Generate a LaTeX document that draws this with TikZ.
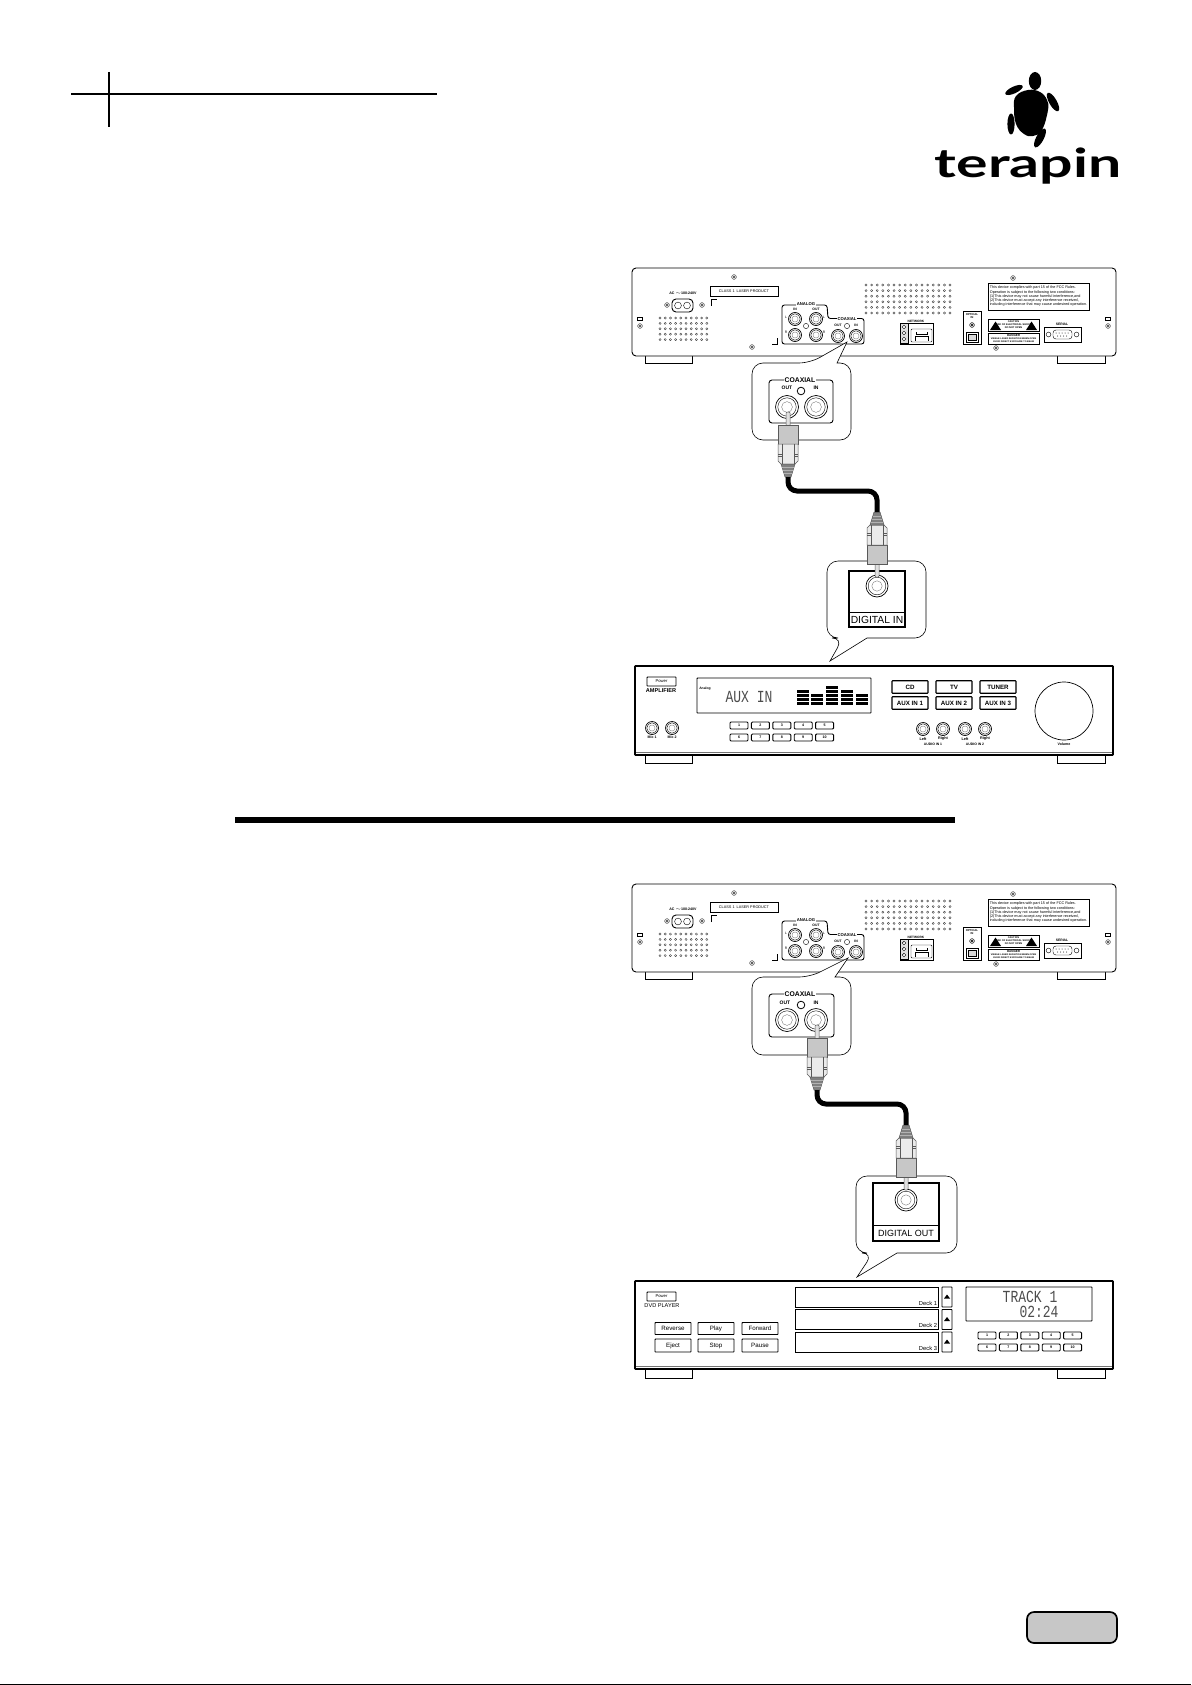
\documentclass[tikz,border=0pt]{standalone}
\usepackage{fontspec}
\setmainfont{Liberation Sans}
\newfontfamily\lcdfont{Liberation Mono}
\newfontfamily\logofont{Lato}
\newcommand{\fsz}[1]{\fontsize{#1}{#1}\selectfont}
\newcommand{\lcdtext}[1]{\scalebox{1}[1.3]{\lcdfont\fsz{13}#1}}

\tikzset{
    x=1pt,y=-1pt,
    every node/.append style={inner sep=0pt,outer sep=0pt},
    thinline/.style={draw,line width=0.4pt},
    midline/.style={draw,line width=0.9pt},
    bodyline/.style={draw,line width=1.7pt},
    tinytext/.style={font=\fsz{3.4}},
    smalltext/.style={font=\fsz{4.4}},
    paneltext/.style={font=\bfseries\fsz{4.2},fill=white,inner xsep=1pt},
    hole/.style={draw,line width=0.35pt,draw=black!80,fill=white},
    plugline/.style={draw=black!65,line width=0.5pt},
    padbtn/.style={midline,rounded corners=1pt,minimum width=18pt,minimum height=7pt,font=\bfseries\fsz{3.6}},
    srcbtn/.style={midline,line width=1.1pt,rounded corners=0.6pt,minimum width=36pt,minimum height=12.5pt,font=\bfseries\fsz{6.2}},
    ctlbtn/.style={midline,rounded corners=0.6pt,minimum width=36pt,minimum height=12pt,font=\fsz{6.2}},
    pwrbtn/.style={midline,rounded corners=0.6pt,minimum width=29pt,minimum height=9pt,font=\fsz{4.2}},
    bubble/.style={draw,line width=0.6pt,fill=white},
    cablewire/.style={draw,line width=5pt,rounded corners=9pt},
    foot/.style={draw,line width=0.9pt,fill=white},
    % rear view of the unit, coordinates of the upper one
    rearpanel/.pic={
        \draw[foot] (645,352) rectangle (692,363);
        \draw[foot] (1057,352) rectangle (1105,363);
        \draw[midline,fill=white,rounded corners=4pt] (632,268) rectangle (1116,356);
        \node[tinytext,font=\bfseries\fsz{3.6}] (-ac) at (683,293) {AC $\sim$100-240V};
        \draw[midline,rounded corners=4pt] (672,299) rectangle (693,312);
        \draw[thinline] (678,305.5) circle (3.4) (687,305.5) circle (3.4);
        \foreach \px/\py in {667/305,702/305,734/277,1013/278,752/347,996/348,640/326,1108/326}
            \draw[thinline,draw=black!75] (\px,\py) circle (2.4) (\px,\py) circle (1);
        \draw[thinline] (637.5,317.5) rectangle (642.5,320.5) (1105.5,317.5) rectangle (1110.5,320.5);
        \node[thinline,minimum width=68pt,minimum height=10pt,font=\fsz{3.8}] (-laser) at (744,291) {CLASS 1\ \ LASER PRODUCT};
        \draw[thinline] (711,306) -- (711,299.5) -- (717,299.5);
        \draw[thinline] (777.5,338) -- (777.5,344) -- (772,344);
        \foreach \ix in {0,...,9} \foreach \iy in {0,...,4}
            \draw[hole] (660+\ix*5.2,318+\iy*5.4) circle (1.1);
        \foreach \ix in {0,...,15} \foreach \iy in {0,...,5}
            \draw[hole] (866+\ix*5.6,285+\iy*5.6) circle (1.1);
        % analog and coaxial sockets
        \draw[midline,rounded corners=2.5pt] (782,344) -- (782,305) -- (827,305) -- (828,318.5) -- (864,318.5) -- (864,344) -- cycle;
        \node[paneltext] (-analog) at (806,304.5) {ANALOG};
        \node[paneltext] (-coax) at (847,319) {COAXIAL};
        \node[tinytext,font=\bfseries\fsz{3.4}] (-ain) at (795,309.5) {IN};
        \node[tinytext,font=\bfseries\fsz{3.4}] (-aout) at (816,309.5) {OUT};
        \node[tinytext,font=\bfseries\fsz{3.4}] (-cout) at (838,325) {OUT};
        \node[tinytext,font=\bfseries\fsz{3.4}] (-cin) at (856,325) {IN};
        \node[tinytext] (-ll) at (786,317) {L};
        \node[tinytext] (-rl) at (824,317) {L};
        \node[tinytext] (-lr) at (786,332) {R};
        \node[tinytext] (-rr) at (824,332) {R};
        \draw[thinline] (806,326) circle (2.6) (847,326) circle (2.6);
        \foreach \jx/\jy in {795/319,816/319,795/335,816/335,838/336,856/336}
            \pic[scale=6.5] at (\jx,\jy) {jack};
        % network
        \draw[midline] (900,323) rectangle (933,344);
        \node[paneltext,font=\bfseries\fsz{3.2}] (-net) at (916,321) {NETWORK};
        \draw[thinline,fill=black!12] (900.5,323.5) rectangle (908,343.5);
        \foreach \ny in {327,333,339} \draw[thinline,fill=white] (904,\ny) circle (1.8);
        \draw[thinline,fill=white,rounded corners=1pt] (911,329) rectangle (932,342);
        \draw[midline] (916,332) -- (916,334) -- (927,334) -- (927,332);
        \draw[thinline] (915,341) -- (915,336) -- (928,336) -- (928,341);
        % optical
        \draw[midline] (963,311) rectangle (981,344);
        \node[tinytext,font=\bfseries\fsz{2.8}] (-opt) at (972,315) {OPTICAL};
        \node[tinytext,font=\bfseries\fsz{2.8}] (-optin) at (972,318) {IN};
        \draw[thinline] (972,325) circle (2.4) (972,325) circle (1);
        \draw[midline] (966,332) rectangle (978,342);
        \draw[thinline,fill=black!15] (968,334) rectangle (976,340);
        % notice and warnings
        \node[midline,minimum width=101pt,minimum height=27pt,font=\fsz{3.75},align=left] (-notice) at (1038.5,296.5)
            {This device complies with part 15 of the FCC Rules.\\[0.5pt]Operation is subject to the following two conditions:\\[0.5pt](1)This device may not cause harmful interference,and\\[0.5pt](2)This device must accept any interference received,\\[0.5pt]including interference that may cause undesired operation.};
        \node[midline,minimum width=51pt,minimum height=12pt,font=\bfseries\fsz{2.5},align=center] (-caution) at (1013.5,325)
            {CAUTION\\[0.5pt]RISK OF ELECTRICAL SHOCK\\[0.5pt]DO NOT OPEN};
        \fill (990,330) -- (995.5,321.5) -- (1001,330) -- cycle;
        \fill (1026,330) -- (1031.5,321.5) -- (1037,330) -- cycle;
        \node[midline,minimum width=51pt,minimum height=11pt,font=\bfseries\fsz{2.3},align=center] (-danger) at (1013.5,338.5)
            {\fsz{3}DANGER\\[0.5pt]VISIBLE LASER RADIATION WHEN OPEN\\[0.5pt]AVOID DIRECT EXPOSURE TO BEAM};
        % serial
        \node[tinytext,font=\bfseries\fsz{3.4}] (-serial) at (1062,324) {SERIAL};
        \draw[midline] (1044,327) rectangle (1081,342);
        \draw[thinline,rounded corners=3pt,fill=white] (1053,330) rectangle (1072,339);
        \foreach \sx in {1056,1059,1062,1065,1068} \fill (\sx,333) circle (0.5);
        \foreach \sx in {1057.5,1060.5,1063.5,1066.5} \fill (\sx,336) circle (0.5);
        \draw[thinline] (1048.5,334.5) circle (2.4) (1076.5,334.5) circle (2.4);
    },
    jack/.pic={
        \draw[line width=0.7pt,fill=white] (0,0) circle (1);
        \draw[line width=0.4pt] (0,0) circle (0.8);
        \draw[line width=0.35pt,draw=black!55] (0,0) circle (0.47);
    },
    % rca plug, origin at the tip of the pin, pin pointing up
    rcaplug/.pic={
        \draw[plugline,fill=black!12,rounded corners=1pt] (-2,0) rectangle (2,14);
        \draw[plugline,fill=black!22] (-10,13) rectangle (10,32);
        \draw[plugline,fill=black!8] (-10,32) -- (-10,49) -- (-7,52) -- (7,52) -- (10,49) -- (10,32) -- cycle;
        \draw[plugline] (-6,32) -- (-6,52) (6,32) -- (6,52);
        \draw[plugline] (-10,42) -- (-6,42) (-10,44) -- (-6,44) (6,42) -- (10,42) (6,44) -- (10,44);
        \draw[plugline,fill=black!50] (-7,52) -- (-3,65) -- (3,65) -- (7,52) -- cycle;
        \draw[line width=0.4pt,draw=black!30] (-6,55) -- (6,55) (-5,58) -- (5,58) (-4,61) -- (4,61);
        \coordinate (-tail) at (0,65);
    },
    numberpad/.pic={
        \foreach \n [count=\i from 0] in {1,...,5}
            \node[padbtn] (-top\n) at (9+\i*21.4,3.5) {\n};
        \foreach \n [count=\i from 0] in {6,...,10}
            \node[padbtn] (-low\n) at (9+\i*21.4,\padgap) {\n};
    }
}
\newcommand{\padgap}{15.5}

\begin{document}
\begin{tikzpicture}
    \useasboundingbox (0,0) rectangle (1191,1685);

    % header
    \draw[line width=2.4pt] (71,94) -- (437,94);
    \draw[line width=2.4pt] (109,72) -- (109,127);

    % logo
    \fill (1035,81) ellipse (6.2 and 9);
    \fill plot[smooth cycle,tension=0.7] coordinates {(1028,90) (1040,92) (1047,100) (1048,110) (1042,130) (1033,136) (1024,134) (1016,124) (1014,108) (1016,96)};
    \fill[rotate around={25:(1014,90)}] (1014,90) ellipse (9.5 and 3.4);
    \fill[rotate around={-60:(1053,102)}] (1053,102) ellipse (10.5 and 3.8);
    \fill (1011,124) ellipse (3.6 and 10.5);
    \fill[rotate around={62:(1040,138)}] (1040,138) ellipse (10.5 and 3.8);
    \node[font=\logofont\bfseries\fsz{40},anchor=base,xscale=1.475] (logotext) at (1028,178) {terapin};

    % upper set-up: digital in
    \pic (rearone) at (0,0) {rearpanel};
    \draw[bubble] (810,363) [sharp corners] -- (847,342) -- (837,363) [rounded corners=11pt] -- (851,363) -- (851,440) -- (752,440) -- (752,363) -- cycle;
    \draw[midline,rounded corners=3pt] (769,380) rectangle (833,423);
    \node[paneltext,font=\bfseries\fsz{6.8}] (coaxone) at (800,380) {COAXIAL};
    \node[font=\bfseries\fsz{5}] (outone) at (787,388) {OUT};
    \node[font=\bfseries\fsz{5}] (inone) at (816,388) {IN};
    \draw[line width=0.8pt] (801,391) circle (3.8);
    \pic[scale=11.5] at (787,407) {jack};
    \pic[scale=11.5] at (816,407) {jack};

    % amplifier front
    \draw[foot] (645,750) rectangle (692,763);
    \draw[foot] (1057,750) rectangle (1105,763);
    \draw[bubble] (843,638) [sharp corners] -- (830,661) -- (867,638) [rounded corners=11pt] -- (926,638) -- (926,561) -- (827,561) -- (827,638) -- cycle;
    \draw[line width=1.2pt] (849,571) rectangle (905,627);
    \draw[line width=0.8pt] (849,612) -- (905,612);
    \node[font=\fsz{10.3}] (digitalin) at (877,620) {DIGITAL IN};
    \pic[scale=11] at (877,586) {jack};
    \pic (plugone) at (788,412) {rcaplug};
    \pic (plugtwo) [yscale=-1] at (877,577) {rcaplug};
    \coordinate (bendone) at (0,491);
    \draw[cablewire] (plugone-tail) -- (plugone-tail |- bendone) -- (plugtwo-tail |- bendone) -- (plugtwo-tail);

    \draw[bodyline,fill=white,rounded corners=0.6pt] (635,666) rectangle (1113,755);
    \draw[draw=black!55,line width=1pt] (636,752.5) -- (1112,752.5);
    \node[pwrbtn] (amppower) at (661.5,681.5) {Power};
    \node[font=\bfseries\fsz{5.6}] (ampname) at (661,691) {AMPLIFIER};
    \foreach \mx/\mt in {652/Mic 1,672/Mic 2}{
        \pic[scale=6.5] at (\mx,728) {jack};
        \node[font=\bfseries\fsz{3.6}] (lab\mx) at (\mx,737) {\mt};
    }
    \draw[midline,rounded corners=0.6pt] (697,678) rectangle (871,713);
    \node[font=\bfseries\fsz{3.4}] (analogmode) at (705,689) {Analog};
    \node[text=black!70] (auxlcd) at (749,697) {\lcdtext{AUX IN}};
    \foreach \bx/\bn in {803/4,817/3,832/5,847/4,862/3}
        \foreach \bi in {1,...,\bn}
            \fill (\bx-6,707.5-\bi*4+1.4) rectangle (\bx+6,707.5-\bi*4-1.1);
    \pic at (730,722) {numberpad};
    \node[srcbtn] (cdbtn) at (910,687) {CD};
    \node[srcbtn] (tvbtn) at (954,687) {TV};
    \node[srcbtn] (tunerbtn) at (998,687) {TUNER};
    \node[srcbtn] (auxa) at (910,703) {AUX IN 1};
    \node[srcbtn] (auxb) at (954,703) {AUX IN 2};
    \node[srcbtn] (auxc) at (998,703) {AUX IN 3};
    \foreach \ax/\at in {923/Left,943/Right,965/Left,985/Right}{
        \pic[scale=6.5] at (\ax,729) {jack};
        \node[font=\bfseries\fsz{3.8}] (aud\ax) at (\ax,739) {\at};
    }
    \node[font=\bfseries\fsz{3.4}] (audioa) at (933,744) {AUDIO IN 1};
    \node[font=\bfseries\fsz{3.4}] (audiob) at (975,744) {AUDIO IN 2};
    \draw[line width=0.7pt] (1064,711) circle (29);
    \node[font=\bfseries\fsz{3.6}] (volume) at (1064,744) {Volume};

    % section rule
    \draw[line width=5.4pt] (235,820) -- (955,820);

    % lower set-up: digital out
    \pic (reartwo) at (0,616) {rearpanel};
    \draw[bubble] (810,977) [sharp corners] -- (848,958) -- (835,977) [rounded corners=11pt] -- (851,977) -- (851,1055) -- (752,1055) -- (752,977) -- cycle;
    \draw[midline,rounded corners=3pt] (769,994) rectangle (834,1037);
    \node[paneltext,font=\bfseries\fsz{6.8}] (coaxtwo) at (800,994) {COAXIAL};
    \node[font=\bfseries\fsz{5}] (outtwo) at (785,1003) {OUT};
    \node[font=\bfseries\fsz{5}] (intwo) at (816,1003) {IN};
    \draw[line width=0.8pt] (801,1005) circle (3.8);
    \pic[scale=11.5] at (787,1020) {jack};
    \pic[scale=11.5] at (816,1020) {jack};

    \draw[foot] (645,1364) rectangle (692,1378);
    \draw[foot] (1057,1364) rectangle (1105,1378);
    \draw[bubble] (873,1253) [sharp corners] -- (857,1277) -- (897,1253) [rounded corners=11pt] -- (957,1253) -- (957,1176) -- (856,1176) -- (856,1253) -- cycle;
    \draw[line width=1.2pt] (873,1183) rectangle (939,1241);
    \draw[line width=0.8pt] (873,1225) -- (939,1225);
    \node[font=\fsz{9}] (digitalout) at (906,1233) {DIGITAL OUT};
    \pic[scale=11] at (906,1200) {jack};
    \pic (plugthree) at (817,1025) {rcaplug};
    \pic (plugfour) [yscale=-1] at (906,1190) {rcaplug};
    \coordinate (bendtwo) at (0,1104);
    \draw[cablewire] (plugthree-tail) -- (plugthree-tail |- bendtwo) -- (plugfour-tail |- bendtwo) -- (plugfour-tail);

    % dvd player front
    \draw[bodyline,fill=white,rounded corners=0.6pt] (635,1281) rectangle (1113,1369);
    \draw[draw=black!55,line width=1pt] (636,1366.5) -- (1112,1366.5);
    \node[pwrbtn] (dvdpower) at (661.5,1296.5) {Power};
    \node[font=\fsz{5.6}] (dvdname) at (662,1306) {DVD PLAYER};
    \node[ctlbtn] (revbtn) at (673,1328.5) {Reverse};
    \node[ctlbtn] (playbtn) at (716,1328.5) {Play};
    \node[ctlbtn] (fwdbtn) at (760,1328.5) {Forward};
    \node[ctlbtn,minimum height=13pt] (ejectbtn) at (673,1345.5) {Eject};
    \node[ctlbtn,minimum height=13pt] (stopbtn) at (716,1345.5) {Stop};
    \node[ctlbtn,minimum height=13pt] (pausebtn) at (760,1345.5) {Pause};
    \foreach \dn/\dy in {1/1287,2/1309.5,3/1332}{
        \draw[midline] (795,\dy) rectangle (938,\dy+20);
        \node[font=\fsz{5.8},anchor=base east] (deck\dn) at (937,\dy+18) {Deck \dn};
        \draw[midline,rounded corners=0.5pt] (942,\dy) rectangle (952,\dy+20);
        \fill (944,\dy+11.5) -- (947,\dy+7.5) -- (950,\dy+11.5) -- cycle;
    }
    \draw[midline,rounded corners=0.6pt] (966,1287) rectangle (1092,1321);
    \node[text=black!70] (tracklcd) at (1030,1296.5) {\lcdtext{TRACK 1}};
    \node[text=black!70] (timelcd) at (1039,1311.5) {\lcdtext{02:24}};
    \pic at (978,1332) {numberpad};

    % page marks
    \draw[line width=1.7pt,fill=black!22,rounded corners=7pt] (1027,1612) rectangle (1117,1643);
    \draw[line width=1pt] (0,1684.5) -- (1191,1684.5);
\end{tikzpicture}
\end{document}
